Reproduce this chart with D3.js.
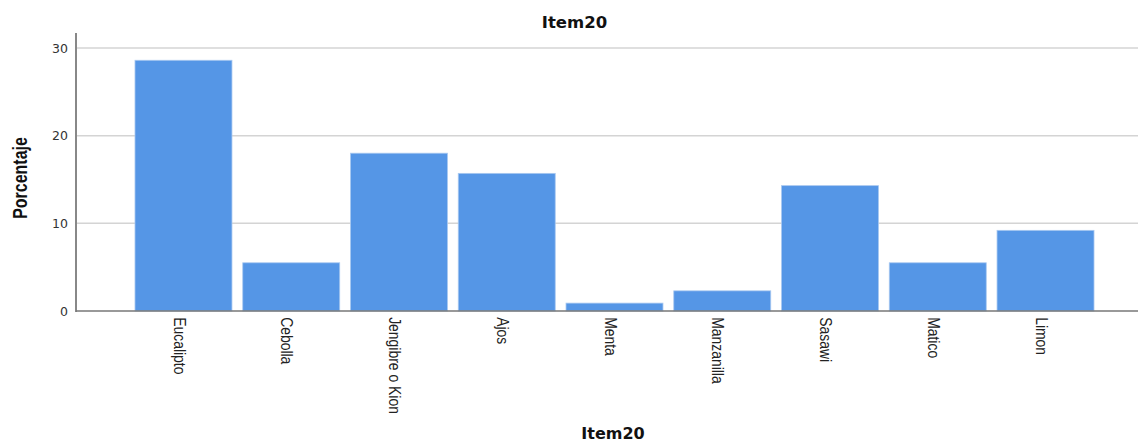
<!DOCTYPE html>
<html>
<head>
<meta charset="utf-8">
<script src="https://cdn.jsdelivr.net/npm/d3@7"></script>
<style>
html,body{margin:0;padding:0;background:#fff;}
svg{display:block;}
</style>
</head>
<body>
<svg id="chart" width="1138" height="443"></svg>
<script>
const categories = ["Eucalipto","Cebolla","Jengibre o Kion","Ajos","Menta","Manzanilla","Sasawi","Matico","Limon"];
const values = [28.6, 5.5, 18.0, 15.7, 0.9, 2.3, 14.3, 5.5, 9.2];
const yTicks = [0, 10, 20, 30];
const chartTitle = "Item20";
const xTitle = "Item20";
const yTitle = "Porcentaje";

const svg = d3.select("#chart");
const x0 = 76, xRight = 1138, yBase = 311;

const x = d3.scaleBand().domain(categories).range([129.6, 1099.4]).paddingInner(0.1).paddingOuter(0.05);
const y = d3.scaleLinear().domain([0, 30]).range([yBase, 48]);

// gridlines
svg.append("g").selectAll("line").data(yTicks.filter(d => d > 0)).join("line")
  .attr("x1", x0).attr("x2", xRight)
  .attr("y1", d => y(d)).attr("y2", d => y(d))
  .attr("stroke", "#d4d4d4").attr("stroke-width", 1.5);

// bars
svg.append("g").selectAll("rect").data(values).join("rect")
  .attr("x", (d, i) => x(categories[i]))
  .attr("width", x.bandwidth())
  .attr("y", d => y(d))
  .attr("height", d => yBase - y(d))
  .attr("fill", "#5596e6")
  .attr("stroke", "#a9c9f0").attr("stroke-width", 0.8);

// y axis
const yAxis = d3.axisLeft(y).tickValues(yTicks).tickSize(0).tickPadding(8);
const gy = svg.append("g").attr("transform", `translate(${x0},0)`).call(yAxis);
gy.select(".domain").remove();
gy.selectAll("text").attr("font-family", "DejaVu Sans, Verdana, sans-serif").attr("font-size", 12.5).attr("fill", "#333");
svg.append("line").attr("x1", x0).attr("x2", x0).attr("y1", 33).attr("y2", yBase + 1)
  .attr("stroke", "#888").attr("stroke-width", 2);

// x axis
const xAxis = d3.axisBottom(x).tickSize(0).tickPadding(0);
const gx = svg.append("g").attr("transform", `translate(0,${yBase})`).call(xAxis);
gx.select(".domain").remove();
gx.selectAll("text")
  .attr("font-family", "Liberation Sans, Arial, sans-serif")
  .attr("font-size", 17)
  .attr("fill", "#222")
  .attr("text-anchor", "start")
  .attr("transform", "translate(-4,0) rotate(90) scale(0.82,1)")
  .attr("x", 7.5).attr("y", 0).attr("dy", "0.35em");
svg.append("line").attr("x1", x0).attr("x2", xRight).attr("y1", yBase).attr("y2", yBase)
  .attr("stroke", "#777").attr("stroke-width", 1.5);

// titles
svg.append("text").attr("x", 574.5).attr("y", 28).attr("text-anchor", "middle")
  .attr("font-family", "DejaVu Sans, Verdana, sans-serif").attr("font-weight", "bold").attr("font-size", 16.5)
  .attr("fill", "#111").text(chartTitle);
svg.append("text").attr("x", 613).attr("y", 439).attr("text-anchor", "middle")
  .attr("font-family", "DejaVu Sans, Verdana, sans-serif").attr("font-weight", "bold").attr("font-size", 16)
  .attr("fill", "#111").text(xTitle);
svg.append("text").attr("transform", "translate(27,178) rotate(-90) scale(0.82,1)").attr("text-anchor", "middle")
  .attr("font-family", "Liberation Sans, Arial, sans-serif").attr("font-weight", "bold").attr("font-size", 19.5)
  .attr("fill", "#111").text(yTitle);
</script>
</body>
</html>
